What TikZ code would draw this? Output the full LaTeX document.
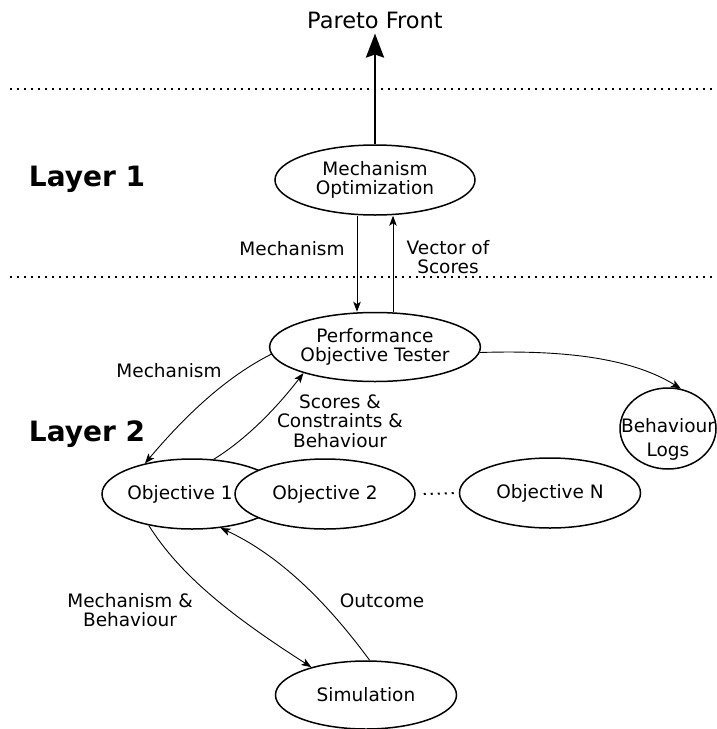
\documentclass[tikz,border=0pt]{standalone}
\usepackage{fontspec}
\setmainfont{DejaVu Sans}
\usetikzlibrary{arrows.meta,shapes.geometric,calc}
\begin{document}
\begin{tikzpicture}[x=1pt,y=-1pt,
  txt/.style={font=\fontsize{18.5}{19.5}\selectfont, inner sep=0pt, align=center},
  ell/.style={draw, line width=1.5pt, ellipse, inner sep=0pt, font=\fontsize{18.5}{19.5}\selectfont, align=center},
  conn/.style={line width=0.9pt, -{Stealth[length=10pt,width=7.5pt,inset=2.5pt]}},
  dotline/.style={line width=2pt, dash pattern=on 2pt off 5pt},
  layer/.style={font=\fontsize{28}{30}\selectfont\bfseries, inner sep=0pt, anchor=base}
]
\useasboundingbox (0,0) rectangle (716,729);

% layer separators
\coordinate (d1a) at (10,89); \coordinate (d1b) at (716,89);
\coordinate (d2a) at (10,277); \coordinate (d2b) at (716,277);
\draw[dotline] (d1a) -- (d1b);
\draw[dotline] (d2a) -- (d2b);

% nodes
\node[font=\fontsize{22.5}{24}\selectfont, inner sep=0pt, anchor=base] (pf) at (375,28) {Pareto Front};
\node[ell, fill=white, minimum width=200pt, minimum height=70pt] (mo) at (375,180) {Mechanism\\Optimization};
\node[ell, fill=white, minimum width=197pt, minimum height=69pt] (pot) at (375,347) {Performance\\Objective Tester};
\node[ell, minimum width=96pt, minimum height=81pt] (bl) at (668,428.5) {};
\node[txt, font=\fontsize{18.5}{24}\selectfont] (blt) at (668,439) {Behaviour\\Logs};
\node[ell, minimum width=180pt, minimum height=70pt] (o1) at (192,494) {};
\node[txt] (o1t) at (180,494) {Objective 1};
\node[ell, fill=white, minimum width=180pt, minimum height=70pt] (o2) at (325,494) {Objective 2};
\node[ell, minimum width=181pt, minimum height=70pt] (on) at (550,493) {Objective N};
\node[ell, minimum width=181pt, minimum height=68pt] (sim) at (366,695) {Simulation};

% labels
\node[layer] (L1) at (87,186) {Layer 1};
\node[layer] (L2) at (87,441) {Layer 2};
\node[txt, anchor=base] (lm1) at (292,255) {Mechanism};
\node[txt] (lvs) at (448,257) {Vector of\\Scores};
\node[txt, anchor=base] (lm2) at (169,377) {Mechanism};
\node[txt] (lsc) at (340,421) {Scores \&\\Constraints \&\\Behaviour};
\node[txt] (lmb) at (130,610) {Mechanism \&\\Behaviour};
\node[txt, anchor=base] (lout) at (382,607) {Outcome};

% connectors
\draw[line width=2.5pt, -{Stealth[length=24pt,width=18pt,inset=3pt]}] (mo.north) -- ([yshift=-5pt]pf.south);
\draw[conn] ([xshift=-18pt]mo.south) -- ([xshift=-18pt]mo.south |- pot.north);
\draw[conn] ([xshift=18pt]pot.north) -- ([xshift=18pt]pot.north |- mo.south);
\draw[conn] (pot.184) .. controls (230,375) and (190,410) .. (o1.147);
\draw[conn] (o1.58) .. controls (245,440) and (275,410) .. (pot.200);
\draw[conn] (pot.-3) .. controls (560,350) and (630,357) .. (bl.72);
\draw[conn] (o1.-144) .. controls (180,575) and (230,615) .. (sim.153);
\draw[conn] (sim.84) .. controls (340,620) and (290,560) .. (o1.-50);
\draw[dotline] ([xshift=8pt]o2.east) -- ([xshift=-3pt]on.west);
\end{tikzpicture}
\end{document}
